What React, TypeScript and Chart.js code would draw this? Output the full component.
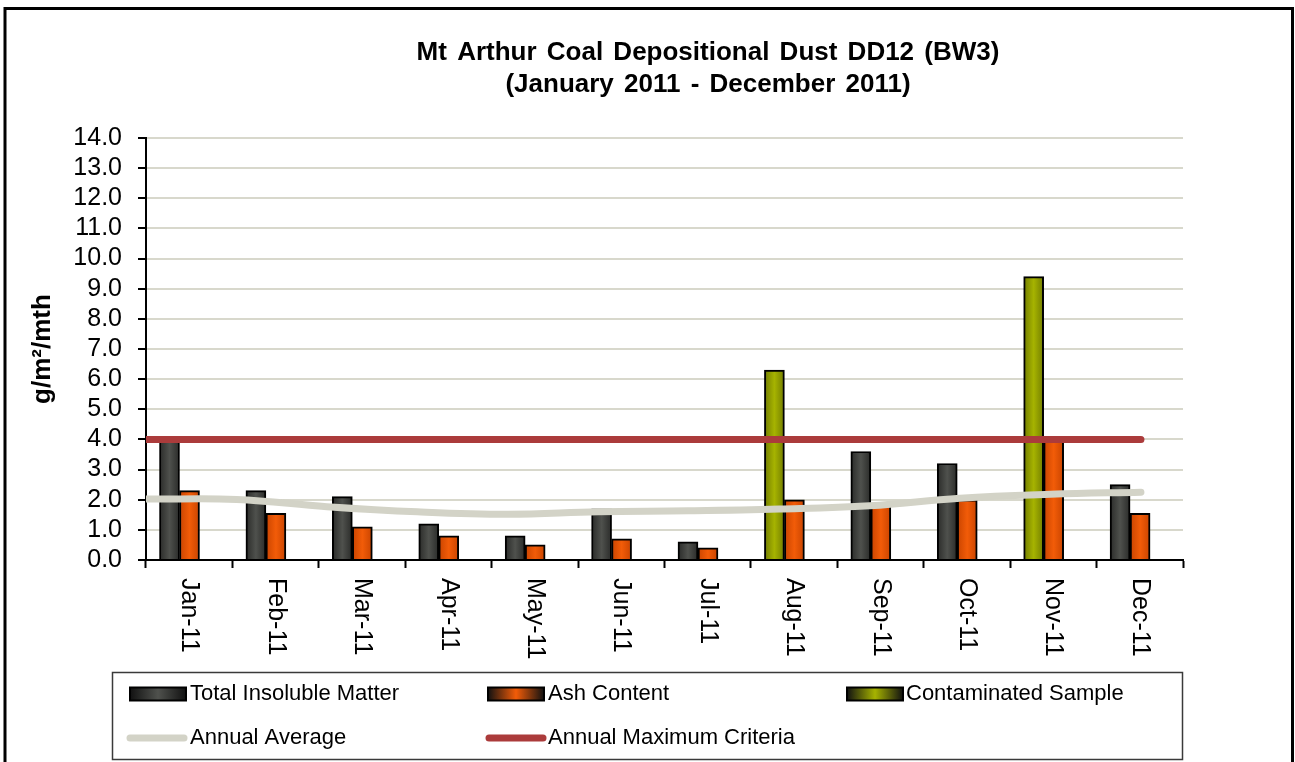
import { useEffect, useRef } from 'react';
import { Chart, registerables } from 'chart.js';

Chart.register(...registerables);

const TITLE_LINES = ['Mt Arthur Coal Depositional Dust DD12 (BW3)', '(January 2011 - December 2011)'];
const Y_AXIS_TITLE = 'g/m²/mth';
const MONTHS = ['Jan-11', 'Feb-11', 'Mar-11', 'Apr-11', 'May-11', 'Jun-11', 'Jul-11', 'Aug-11', 'Sep-11', 'Oct-11', 'Nov-11', 'Dec-11'];
const TOTAL_INSOLUBLE = [3.95, 2.3, 2.1, 1.2, 0.8, 1.7, 0.6, null, 3.6, 3.2, null, 2.5];
const ASH_CONTENT = [2.3, 1.55, 1.1, 0.8, 0.5, 0.7, 0.4, 2.0, 1.85, 2.0, 3.95, 1.55];
const CONTAMINATED = [null, null, null, null, null, null, null, 6.3, null, null, 9.4, null];
const ANNUAL_AVERAGE = [2.02, 2.01, 1.77, 1.6, 1.52, 1.6, 1.63, 1.69, 1.8, 2.05, 2.18, 2.25];
const ANNUAL_MAX_CRITERIA = [4, 4, 4, 4, 4, 4, 4, 4, 4, 4, 4, 4];
const Y_MIN = 0;
const Y_MAX = 14;
const Y_STEP = 1;
// secondary axes: the line series run from the axis to the last month;
// the bar clusters sit left of centre (third, empty slot of the original chart)
const LINE_AXIS_MAX = 11.465;
const BAR_AXIS_SHIFT = 0.1124;

const FONT = "'Liberation Sans', Arial, Helvetica, sans-serif";
const C_TOTAL = ['#2a2b29', '#4f514d'];
const C_ASH = ['#c94400', '#f25c08'];
const C_CONT = ['#737e00', '#a6b300'];
const C_AVG = '#d3d3c7';
const C_MAX = '#ab3b3b';

const barFill = (pair: string[]) => (c: any) => {
  const el = c.element;
  if (!el || typeof el.x !== 'number' || !el.width || !isFinite(el.x)) return pair[1];
  const g = c.chart.ctx.createLinearGradient(el.x - el.width / 2, 0, el.x + el.width / 2, 0);
  g.addColorStop(0, pair[0]);
  g.addColorStop(0.5, pair[1]);
  g.addColorStop(1, pair[0]);
  return g;
};

const decorPlugin = {
  id: 'decor',
  beforeDraw(chart: any) {
    const { ctx, width, height } = chart;
    ctx.save();
    ctx.fillStyle = '#ffffff';
    ctx.fillRect(0, 0, width, height);
    ctx.restore();
  },
  afterDraw(chart: any) {
    const ctx = chart.ctx;
    ctx.save();
    // outer frame
    ctx.strokeStyle = '#000';
    ctx.lineWidth = 3;
    ctx.strokeRect(5, 8.5, 1287.5, 800);

    // title
    ctx.fillStyle = '#000';
    ctx.textAlign = 'center';
    ctx.textBaseline = 'middle';
    ctx.font = `bold 26px ${FONT}`;
    ctx.wordSpacing = '3px';
    TITLE_LINES.forEach((t, i) => ctx.fillText(t, 708, 53 + i * 32));
    ctx.wordSpacing = '0px';

    // rotated x labels
    const xs = chart.scales.x;
    ctx.font = `25px ${FONT}`;
    ctx.textAlign = 'left';
    ctx.textBaseline = 'middle';
    (chart.data.labels as string[]).forEach((lab, i) => {
      const px = xs.getPixelForTick(i);
      ctx.save();
      ctx.translate(px, xs.top + 18);
      ctx.rotate(Math.PI / 2);
      ctx.fillText(lab, 0, 0);
      ctx.restore();
    });

    // legend box
    ctx.strokeStyle = '#3a3a3a';
    ctx.lineWidth = 1.5;
    ctx.strokeRect(112.5, 672.5, 1070, 87);

    const ds = chart.data.datasets;
    const items = [
      { d: ds[2], kind: 'bar', c: C_TOTAL, mx: 130, tx: 190, y: 694 },
      { d: ds[3], kind: 'bar', c: C_ASH, mx: 488, tx: 548, y: 694 },
      { d: ds[4], kind: 'bar', c: C_CONT, mx: 847, tx: 906, y: 694 },
      { d: ds[0], kind: 'line', c: null, mx: 130, tx: 190, y: 738 },
      { d: ds[1], kind: 'line', c: null, mx: 489, tx: 548, y: 738 },
    ];
    ctx.font = `22px ${FONT}`;
    items.forEach((it) => {
      if (it.kind === 'bar' && it.c) {
        const g = ctx.createLinearGradient(it.mx, 0, it.mx + 56, 0);
        g.addColorStop(0, '#111');
        g.addColorStop(0.5, it.c[1]);
        g.addColorStop(1, '#111');
        ctx.fillStyle = g;
        ctx.fillRect(it.mx, it.y - 6.5, 56, 13);
        ctx.strokeStyle = '#000';
        ctx.lineWidth = 2;
        ctx.strokeRect(it.mx, it.y - 6.5, 56, 13);
      } else {
        ctx.strokeStyle = it.d.borderColor;
        ctx.lineWidth = 7;
        ctx.lineCap = 'round';
        ctx.beginPath();
        ctx.moveTo(it.mx, it.y);
        ctx.lineTo(it.mx + 54, it.y);
        ctx.stroke();
      }
      ctx.fillStyle = '#000';
      ctx.textAlign = 'left';
      ctx.textBaseline = 'middle';
      ctx.fillText(it.d.label, it.tx, it.y);
    });
    ctx.restore();
  },
};

export default function App() {
  const ref = useRef<HTMLCanvasElement | null>(null);

  useEffect(() => {
    document.body.style.margin = '0';
    if (!ref.current) return;
    const toXY = (arr: (number | null)[]) => arr.map((v, i) => ({ x: i, y: v }));
    const chart = new Chart(ref.current, {
      type: 'bar',
      data: {
        labels: MONTHS,
        datasets: [
          {
            type: 'line',
            label: 'Annual Average',
            data: toXY(ANNUAL_AVERAGE),
            xAxisID: 'x2',
            stack: 'avg',
            borderColor: C_AVG,
            backgroundColor: C_AVG,
            borderWidth: 7,
            pointRadius: 0,
            tension: 0.4,
            borderCapStyle: 'round',
            order: 0,
          } as any,
          {
            type: 'line',
            label: 'Annual Maximum Criteria',
            data: toXY(ANNUAL_MAX_CRITERIA),
            xAxisID: 'x2',
            stack: 'max',
            borderColor: C_MAX,
            backgroundColor: C_MAX,
            borderWidth: 7,
            pointRadius: 0,
            borderCapStyle: 'round',
            order: 0,
          } as any,
          {
            label: 'Total Insoluble Matter',
            data: toXY(TOTAL_INSOLUBLE),
            xAxisID: 'xb',
            stack: 'tim',
            backgroundColor: barFill(C_TOTAL),
            borderColor: '#000',
            borderWidth: 2,
            order: 1,
          } as any,
          {
            label: 'Ash Content',
            data: toXY(ASH_CONTENT),
            xAxisID: 'xb',
            stack: 'ash',
            backgroundColor: barFill(C_ASH),
            borderColor: '#000',
            borderWidth: 2,
            order: 1,
          } as any,
          {
            label: 'Contaminated Sample',
            data: toXY(CONTAMINATED),
            xAxisID: 'xb',
            stack: 'tim',
            backgroundColor: barFill(C_CONT),
            borderColor: '#000',
            borderWidth: 2,
            order: 1,
          } as any,
        ],
      },
      options: {
        responsive: false,
        animation: false,
        events: [],
        layout: { padding: { left: 20, right: 112, top: 138, bottom: 92 } },
        datasets: {
          bar: { barThickness: 20, borderSkipped: 'start' },
        },
        plugins: {
          legend: { display: false },
          title: { display: false },
          tooltip: { enabled: false },
        },
        scales: {
          x: {
            type: 'category',
            offset: true,
            grid: {
              display: true,
              offset: true,
              drawOnChartArea: false,
              drawTicks: true,
              tickLength: 8,
              tickColor: '#000',
              tickWidth: 2,
            },
            border: { display: true, color: '#000', width: 2 },
            ticks: { display: false },
            afterFit: (s: any) => {
              s.height = 110;
            },
          },
          xb: {
            type: 'linear',
            display: false,
            stacked: true,
            offset: false,
            grid: { offset: false },
            min: -0.5 + BAR_AXIS_SHIFT,
            max: MONTHS.length - 0.5 + BAR_AXIS_SHIFT,
          },
          x2: {
            type: 'linear',
            display: false,
            offset: false,
            grid: { offset: false },
            min: 0,
            max: LINE_AXIS_MAX,
          },
          y: {
            stacked: true,
            min: Y_MIN,
            max: Y_MAX,
            ticks: {
              stepSize: Y_STEP,
              autoSkip: false,
              color: '#000',
              padding: 16,
              font: { family: FONT, size: 25 },
              callback: (v: any) => Number(v).toFixed(1),
            },
            grid: {
              color: '#d8d8cc',
              lineWidth: 2,
              tickColor: '#000',
              tickWidth: 2,
              tickLength: 8,
            },
            border: { display: true, color: '#000', width: 2 },
            title: {
              display: true,
              text: Y_AXIS_TITLE,
              color: '#000',
              font: { family: FONT, size: 26, weight: 'bold' },
              padding: { top: 7, bottom: 0 },
            },
            afterFit: (s: any) => {
              s.width = 126;
            },
          },
        },
      },
      plugins: [decorPlugin],
    });
    chart.update('none');
    return () => chart.destroy();
  }, []);

  return <canvas ref={ref} width={1295} height={762} style={{ display: 'block' }} />;
}
